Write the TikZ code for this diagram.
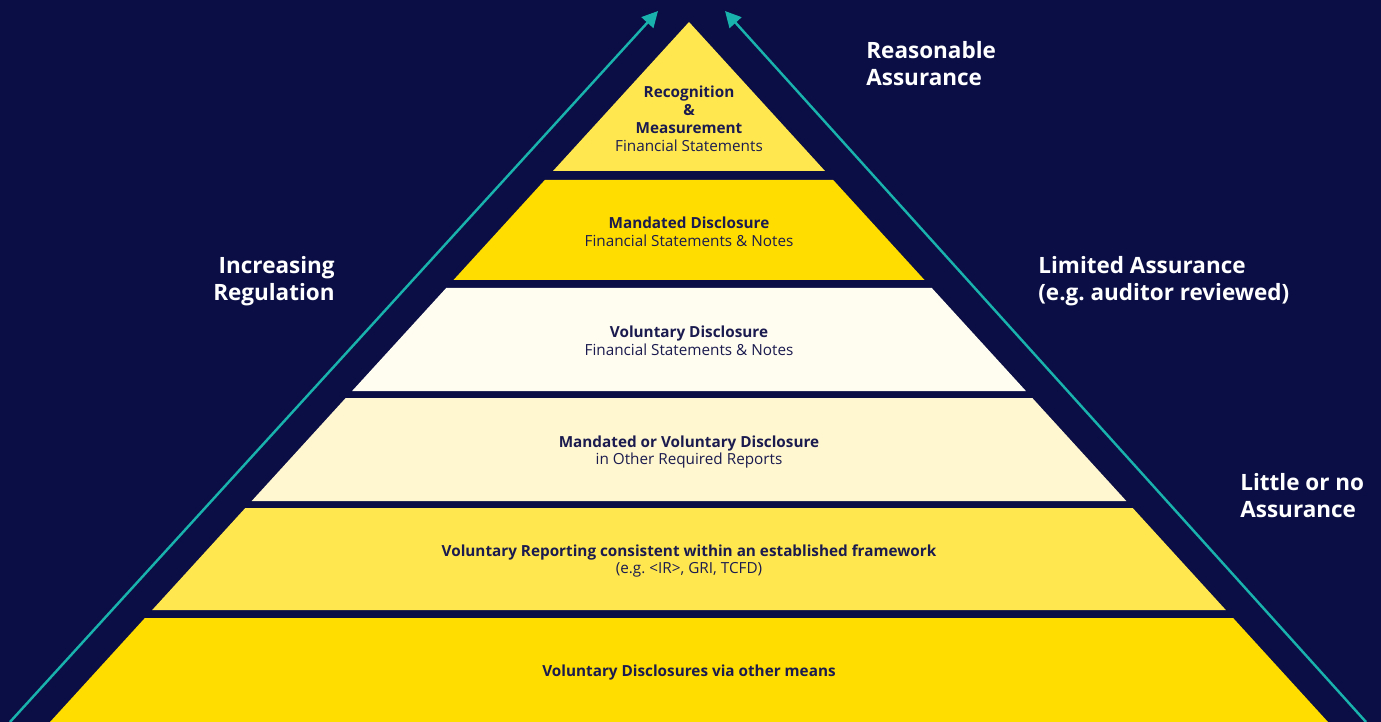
\documentclass[tikz,border=0pt]{standalone}
\usepackage{fontspec}
\setmainfont{Open Sans}
\usepackage{tikz}
\usetikzlibrary{arrows.meta}
\definecolor{navy}{HTML}{0A0E45}
\definecolor{ink}{HTML}{1B1B4F}
\definecolor{teal}{HTML}{19B2AC}
\definecolor{lemon}{HTML}{FFE84F}
\definecolor{gold}{HTML}{FFDD00}
\definecolor{cream}{HTML}{FFFCF0}
\definecolor{pale}{HTML}{FFF7D0}

\begin{document}
\begin{tikzpicture}[x=0.02cm,y=-0.02cm,
  layer/.style={text=ink,align=center,font=\fontsize{8.7}{10.2}\selectfont},
  side/.style={text=white,inner sep=0pt,font=\bfseries\fontsize{12.8}{15.3}\selectfont},
  rise/.style={draw=teal,line width=1.4pt,-{Triangle[length=9pt,width=9pt]}}]
\fill[navy] (0,0) rectangle (1381,722);
\useasboundingbox (0,0) rectangle (1381,722);
% Pyramid Bands
\fill[lemon] (689,22) -- (825,171) -- (553,171) -- cycle;
\fill[gold] (544.8,180) -- (833.2,180) -- (924.5,280) -- (453.5,280) -- cycle;
\fill[cream] (446.2,288) -- (931.8,288) -- (1025.9,391) -- (352.1,391) -- cycle;
\fill[pale] (345.7,398) -- (1032.3,398) -- (1126.3,501) -- (251.7,501) -- cycle;
\fill[lemon] (245.3,508) -- (1132.7,508) -- (1225.8,610) -- (152.2,610) -- cycle;
\fill[gold] (144.9,618) -- (1233.1,618) -- (1328,722) -- (50,722) -- cycle;
% Band Labels
\node at (689,119) [layer] (Band1) {\textbf{Recognition}\\\textbf{\&}\\\textbf{Measurement}\\Financial Statements};
\node at (689,232) [layer] (Band2) {\textbf{Mandated Disclosure}\\Financial Statements \& Notes};
\node at (689,341) [layer] (Band3) {\textbf{Voluntary Disclosure}\\Financial Statements \& Notes};
\node at (689,452) [layer] (Band4) {\textbf{Mandated or Voluntary Disclosure}\\in Other Required Reports};
\node at (689,561) [layer] (Band5) {\textbf{Voluntary Reporting consistent within an established framework}\\(e.g.\ <IR>, GRI, TCFD)};
\node at (689,673) [layer] (Band6) {\textbf{Voluntary Disclosures via other means}};
% Side Labels
\node at (335,281) [side,align=right,anchor=east] (Regulation) {Increasing\\Regulation};
\node at (866,64) [side,align=left,anchor=west] (Reasonable) {Reasonable\\Assurance};
\node at (1038,281) [side,align=left,anchor=west] (Limited) {Limited Assurance\\(e.g.\ auditor reviewed)};
\node at (1240,496) [side,align=left,anchor=west] (Little) {Little or no\\Assurance};
% Arrows
\coordinate (LeftFoot) at (10,722);
\coordinate (LeftTip) at (658,11);
\coordinate (RightFoot) at (1366,722);
\coordinate (RightTip) at (725,11);
\draw [rise] (LeftFoot) -- (LeftTip);
\draw [rise] (RightFoot) -- (RightTip);
\end{tikzpicture}
\end{document}
